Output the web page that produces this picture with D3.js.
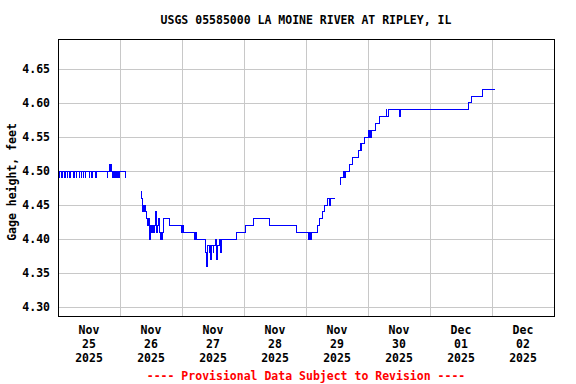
<!DOCTYPE html>
<html lang="en">
<head>
    <meta charset="UTF-8">
    <title>USGS 05585000 LA MOINE RIVER AT RIPLEY, IL</title>
    <script src="https://d3js.org/d3.v7.min.js"></script>
    <style>
        body {
            margin: 0;
            background: #ffffff;
        }
        text {
            font-family: "DejaVu Sans Mono", monospace;
            font-weight: bold;
            font-size: 11.5px;
            fill: #000000;
        }
        .grid line {
            stroke: #c8c8c8;
            stroke-width: 1;
            shape-rendering: crispEdges;
        }
        .gage-line {
            fill: none;
            stroke: #0000ff;
            stroke-width: 1;
            shape-rendering: crispEdges;
        }
        .frame {
            fill: none;
            stroke: #000000;
            stroke-width: 1;
            shape-rendering: crispEdges;
        }
        .provisional {
            fill: #ff0000;
        }
    </style>
</head>
<body>
    <svg id="chart" width="576" height="384"></svg>

    <script>
        // hours since Nov 25 2025 00:00, gage height in feet (15-min readings, step changes only)
        const segNov25 = [
            [0, 4.50], [0.5, 4.49], [0.75, 4.50], [1.5, 4.49], [1.75, 4.50], [2.5, 4.49], [2.75, 4.50],
            [3.5, 4.49], [3.75, 4.50], [4.5, 4.49], [4.75, 4.50], [6, 4.49], [6.25, 4.50], [7, 4.49],
            [7.25, 4.50], [8.25, 4.49], [8.5, 4.50], [9, 4.49], [9.25, 4.50], [9.75, 4.49], [10, 4.50],
            [10.5, 4.49], [10.75, 4.50], [12, 4.49], [12.25, 4.50], [13, 4.49], [13.25, 4.50],
            [14.5, 4.49], [14.75, 4.50],
            [19, 4.49], [19.25, 4.50], [19.75, 4.51], [20, 4.50], [20.5, 4.51], [20.75, 4.50],
            [21.25, 4.49], [21.5, 4.50], [22, 4.49], [22.25, 4.50], [22.75, 4.49], [23, 4.50],
            [23.5, 4.49], [23.75, 4.50], [26, 4.49], [26.25, 4.50], [26.5, 4.50]
        ];
        const segLone = [[30.5, 4.49], [30.75, 4.49]];
        const segFall = [
            [32.25, 4.47], [32.5, 4.46], [32.75, 4.44], [33, 4.45], [33.5, 4.44], [33.75, 4.45],
            [34, 4.44], [34.25, 4.43], [34.75, 4.42], [35, 4.43], [35.25, 4.42], [35.5, 4.40],
            [35.75, 4.42], [36.25, 4.41], [36.75, 4.42], [37, 4.41], [37.5, 4.42], [37.75, 4.44],
            [38, 4.41], [38.5, 4.42], [39, 4.43], [39.25, 4.41], [39.5, 4.40], [39.75, 4.41],
            [40.25, 4.40], [40.5, 4.41], [40.75, 4.43], [43.25, 4.42],
            [47.75, 4.41], [48, 4.42], [48.5, 4.41],
            [53, 4.40], [53.25, 4.41], [53.75, 4.40],
            [57.25, 4.38], [57.5, 4.36], [57.75, 4.39], [58.5, 4.38], [58.75, 4.39], [59, 4.37],
            [59.25, 4.39], [60, 4.38], [60.25, 4.39], [61, 4.40], [61.25, 4.39], [61.5, 4.37],
            [61.75, 4.39], [62.5, 4.40], [63, 4.38], [63.25, 4.40],
            [69.25, 4.41], [72.5, 4.42], [75.5, 4.43], [81.75, 4.42], [92.5, 4.41],
            [97, 4.40], [97.5, 4.41], [97.75, 4.40], [98.25, 4.41],
            [100.5, 4.42], [101.25, 4.43], [102.5, 4.44],
            [103.25, 4.45], [104.5, 4.46], [105.25, 4.45], [105.5, 4.46], [107.25, 4.46]
        ];
        const segRise = [
            [109.25, 4.48], [109.5, 4.49], [110.5, 4.50], [110.75, 4.49], [111.25, 4.50],
            [113, 4.51], [114, 4.52], [116.25, 4.53], [117, 4.54], [117.25, 4.53], [117.5, 4.54],
            [118.75, 4.55], [120, 4.56], [120.25, 4.55], [120.75, 4.56], [121, 4.55], [121.5, 4.56],
            [122.75, 4.57], [124.5, 4.58],
            [127, 4.59], [127.25, 4.58], [128, 4.59],
            [132.25, 4.58], [132.5, 4.59], [158.75, 4.60], [160.25, 4.61], [164.25, 4.62], [169.25, 4.62]
        ];

        const dayMonths = ["Nov", "Nov", "Nov", "Nov", "Nov", "Nov", "Dec", "Dec"];
        const dayNums = ["25", "26", "27", "28", "29", "30", "01", "02"];
        const dayYears = ["2025", "2025", "2025", "2025", "2025", "2025", "2025", "2025"];
        const yTicks = [4.30, 4.35, 4.40, 4.45, 4.50, 4.55, 4.60, 4.65];

        const margin = {top: 39, right: 22, bottom: 68, left: 58},
              width = 576 - margin.left - margin.right,
              height = 384 - margin.top - margin.bottom;

        const svg = d3.select("#chart");
        const g = svg.append("g")
            .attr("transform", `translate(${margin.left},${margin.top})`);

        const x = d3.scaleLinear()
            .domain([0, 24 * dayNums.length])
            .range([0, width]);

        const y = d3.scaleLinear()
            .domain([4.287, 4.694])
            .range([height, 0]);

        // grid
        const grid = g.append("g").attr("class", "grid");
        grid.selectAll(".hline")
            .data(yTicks)
            .enter()
            .append("line")
            .attr("x1", 0)
            .attr("x2", width)
            .attr("y1", d => Math.round(y(d)) + 0.5)
            .attr("y2", d => Math.round(y(d)) + 0.5);

        grid.selectAll(".vline")
            .data(d3.range(1, dayNums.length))
            .enter()
            .append("line")
            .attr("x1", d => Math.round(x(d * 24)) + 0.5)
            .attr("x2", d => Math.round(x(d * 24)) + 0.5)
            .attr("y1", 0)
            .attr("y2", height);

        // data
        const series = [].concat(segNov25, [[26.5, null]], segLone, [[30.75, null]],
                                 segFall, [[107.25, null]], segRise);

        const line = d3.line()
            .defined(d => d[1] !== null)
            .x(d => x(d[0]))
            .y(d => y(d[1]))
            .curve(d3.curveStepAfter);

        g.append("path")
            .datum(series)
            .attr("class", "gage-line")
            .attr("d", line);

        g.append("rect")
            .attr("class", "frame")
            .attr("x", 0.5)
            .attr("y", 0.5)
            .attr("width", width)
            .attr("height", height);

        // y tick labels
        g.selectAll(".ylab")
            .data(yTicks)
            .enter()
            .append("text")
            .attr("x", -8)
            .attr("y", d => y(d))
            .attr("dy", "0.36em")
            .attr("text-anchor", "end")
            .text(d => d.toFixed(2));

        // x labels, centred on noon of each day
        const xl = g.selectAll(".xlab")
            .data(dayNums)
            .enter()
            .append("text")
            .attr("text-anchor", "middle")
            .attr("transform", (d, i) => `translate(${x(i * 24 + 12)},${height + 18})`);
        xl.append("tspan").attr("x", 0).attr("y", 0).text((d, i) => dayMonths[i]);
        xl.append("tspan").attr("x", 0).attr("y", 14).text(d => d);
        xl.append("tspan").attr("x", 0).attr("y", 28).text((d, i) => dayYears[i]);

        svg.append("text")
            .attr("x", 306)
            .attr("y", 24)
            .attr("text-anchor", "middle")
            .text("USGS 05585000 LA MOINE RIVER AT RIPLEY, IL");

        svg.append("text")
            .attr("transform", "rotate(-90)")
            .attr("x", -182)
            .attr("y", 16)
            .attr("text-anchor", "middle")
            .text("Gage height, feet");

        svg.append("text")
            .attr("class", "provisional")
            .attr("x", 306)
            .attr("y", 380)
            .attr("text-anchor", "middle")
            .text("---- Provisional Data Subject to Revision ----");
    </script>
</body>
</html>
